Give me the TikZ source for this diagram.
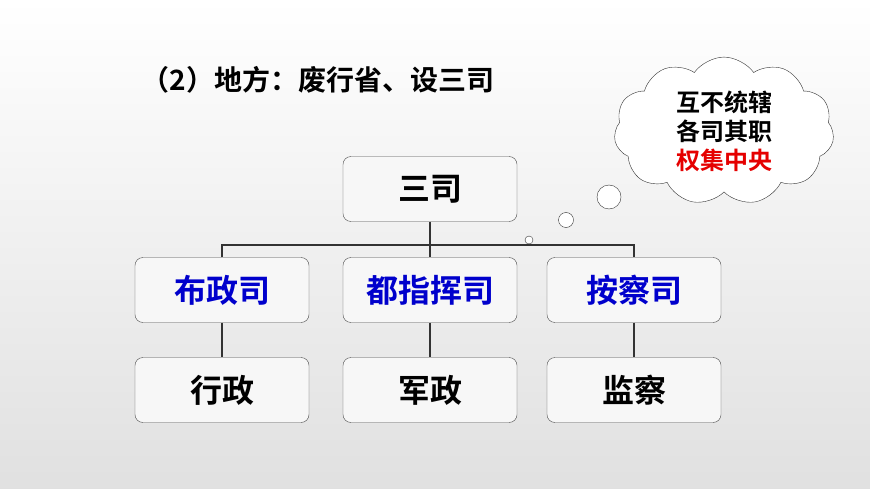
\documentclass[tikz,border=0pt]{standalone}
\usepackage{fontspec}
\setmainfont{Noto Sans CJK SC Bold}
\usetikzlibrary{shapes.symbols}
\tikzset{
  sibox/.style={draw=black!70, rounded corners=8pt, fill=black!3,
    minimum width=174pt, minimum height=65pt, inner sep=0pt,
    font=\fontsize{32}{34}\selectfont},
  bluetext/.style={text=blue!80!black},
  link/.style={draw=black!80, line width=1.2pt}
}
\begin{document}
\begin{tikzpicture}[x=1pt,y=-1pt]
  % background
  \shade[top color=white, bottom color=black!12] (0,0) rectangle (870,489);
  \useasboundingbox (0,0) rectangle (870,489);

  % title
  \node[anchor=west, font=\fontsize{28}{30}\selectfont] (title) at (138,80) {（2）地方：废行省、设三司};

  % boxes
  \node[sibox] (sansi) at (430,189) {三司};
  \node[sibox, bluetext] (buzheng) at (222,290) {布政司};
  \node[sibox, bluetext] (duzhihui) at (430,290) {都指挥司};
  \node[sibox, bluetext] (ancha) at (634,290) {按察司};
  \node[sibox] (xingzheng) at (222,390) {行政};
  \node[sibox] (junzheng) at (430,390) {军政};
  \node[sibox] (jiancha) at (634,390) {监察};

  % connectors
  \coordinate (bus) at (430,245);
  \draw[link] (sansi.south) -- (bus);
  \draw[link] (buzheng.north) |- (bus) -| (ancha.north);
  \draw[link] (bus) -- (duzhihui.north);
  \draw[link] (buzheng) -- (xingzheng);
  \draw[link] (duzhihui) -- (junzheng);
  \draw[link] (ancha) -- (jiancha);

  % thought cloud
  \node[cloud, cloud puffs=11, cloud puff arc=110, draw=black!80, fill=white,
    minimum width=220pt, minimum height=140pt, aspect=1.6, align=center,
    font=\fontsize{24}{29}\selectfont] (cloud) at (724,131)
    {互不统辖\\各司其职\\\textcolor{red!90!black}{权集中央}};
  \draw[black!80, fill=white] (609,197) circle (12);
  \draw[black!80, fill=white] (566,220) circle (7.5);
  \draw[black!80, fill=white] (529,240) circle (4);
\end{tikzpicture}
\end{document}
